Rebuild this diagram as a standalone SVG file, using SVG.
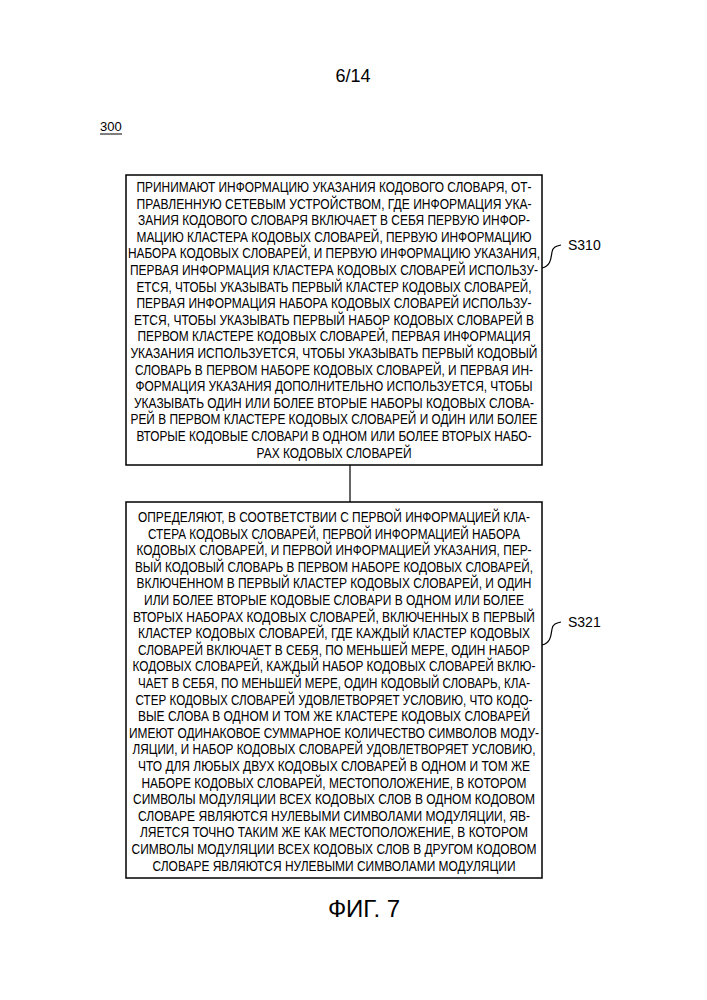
<svg xmlns="http://www.w3.org/2000/svg" width="707" height="1000" viewBox="0 0 707 1000">
<style>
text{font-family:"Liberation Sans",Arial,sans-serif;fill:#000}
.b{font-size:15px;text-anchor:middle}
.box{fill:#fff;stroke:#000;stroke-width:1.5}
.ln{fill:none;stroke:#000;stroke-width:1.2}
</style>
<rect width="707" height="1000" fill="#fff"/>
<text x="353" y="82" font-size="18" text-anchor="middle">6/14</text>
<text x="100" y="131" font-size="13">300</text>
<line x1="100" y1="134" x2="122" y2="134" stroke="#000" stroke-width="1"/>
<g id="connectors">
<line class="ln" x1="350" y1="465" x2="350" y2="502"/>
<path class="ln" d="M542,268 C551,266 551,258 552,252 C553,247 556,246 561,245"/>
<path class="ln" d="M542,645 C551,643 551,635 552,629 C553,624 556,623 561,622"/>
</g>
<g id="S310">
<rect class="box" x="126" y="175" width="416" height="290"/>
<text x="568" y="250" font-size="14">S310</text>
<text class="b" x="334" y="192" textLength="395" lengthAdjust="spacingAndGlyphs">ПРИНИМАЮТ ИНФОРМАЦИЮ УКАЗАНИЯ КОДОВОГО СЛОВАРЯ, ОТ-</text>
<text class="b" x="334" y="208.6" textLength="395" lengthAdjust="spacingAndGlyphs">ПРАВЛЕННУЮ СЕТЕВЫМ УСТРОЙСТВОМ, ГДЕ ИНФОРМАЦИЯ УКА-</text>
<text class="b" x="334" y="225.2" textLength="392" lengthAdjust="spacingAndGlyphs">ЗАНИЯ КОДОВОГО СЛОВАРЯ ВКЛЮЧАЕТ В СЕБЯ ПЕРВУЮ ИНФОР-</text>
<text class="b" x="334" y="241.8" textLength="395" lengthAdjust="spacingAndGlyphs">МАЦИЮ КЛАСТЕРА КОДОВЫХ СЛОВАРЕЙ, ПЕРВУЮ ИНФОРМАЦИЮ</text>
<text class="b" x="334" y="258.4" textLength="412" lengthAdjust="spacingAndGlyphs">НАБОРА КОДОВЫХ СЛОВАРЕЙ, И ПЕРВУЮ ИНФОРМАЦИЮ УКАЗАНИЯ,</text>
<text class="b" x="334" y="275" textLength="408" lengthAdjust="spacingAndGlyphs">ПЕРВАЯ ИНФОРМАЦИЯ КЛАСТЕРА КОДОВЫХ СЛОВАРЕЙ ИСПОЛЬЗУ-</text>
<text class="b" x="334" y="291.6" textLength="395" lengthAdjust="spacingAndGlyphs">ЕТСЯ, ЧТОБЫ УКАЗЫВАТЬ ПЕРВЫЙ КЛАСТЕР КОДОВЫХ СЛОВАРЕЙ,</text>
<text class="b" x="334" y="308.2" textLength="395" lengthAdjust="spacingAndGlyphs">ПЕРВАЯ ИНФОРМАЦИЯ НАБОРА КОДОВЫХ СЛОВАРЕЙ ИСПОЛЬЗУ-</text>
<text class="b" x="334" y="324.8" textLength="400" lengthAdjust="spacingAndGlyphs">ЕТСЯ, ЧТОБЫ УКАЗЫВАТЬ ПЕРВЫЙ НАБОР КОДОВЫХ СЛОВАРЕЙ В</text>
<text class="b" x="334" y="341.4" textLength="393" lengthAdjust="spacingAndGlyphs">ПЕРВОМ КЛАСТЕРЕ КОДОВЫХ СЛОВАРЕЙ, ПЕРВАЯ ИНФОРМАЦИЯ</text>
<text class="b" x="334" y="358" textLength="407" lengthAdjust="spacingAndGlyphs">УКАЗАНИЯ ИСПОЛЬЗУЕТСЯ, ЧТОБЫ УКАЗЫВАТЬ ПЕРВЫЙ КОДОВЫЙ</text>
<text class="b" x="334" y="374.6" textLength="398" lengthAdjust="spacingAndGlyphs">СЛОВАРЬ В ПЕРВОМ НАБОРЕ КОДОВЫХ СЛОВАРЕЙ, И ПЕРВАЯ ИН-</text>
<text class="b" x="334" y="391.2" textLength="397" lengthAdjust="spacingAndGlyphs">ФОРМАЦИЯ УКАЗАНИЯ ДОПОЛНИТЕЛЬНО ИСПОЛЬЗУЕТСЯ, ЧТОБЫ</text>
<text class="b" x="334" y="407.8" textLength="400" lengthAdjust="spacingAndGlyphs">УКАЗЫВАТЬ ОДИН ИЛИ БОЛЕЕ ВТОРЫЕ НАБОРЫ КОДОВЫХ СЛОВА-</text>
<text class="b" x="334" y="424.4" textLength="407" lengthAdjust="spacingAndGlyphs">РЕЙ В ПЕРВОМ КЛАСТЕРЕ КОДОВЫХ СЛОВАРЕЙ И ОДИН ИЛИ БОЛЕЕ</text>
<text class="b" x="334" y="441" textLength="395" lengthAdjust="spacingAndGlyphs">ВТОРЫЕ КОДОВЫЕ СЛОВАРИ В ОДНОМ ИЛИ БОЛЕЕ ВТОРЫХ НАБО-</text>
<text class="b" x="334" y="457.6" textLength="155" lengthAdjust="spacingAndGlyphs">РАХ КОДОВЫХ СЛОВАРЕЙ</text>
</g>
<g id="S321">
<rect class="box" x="126" y="502" width="416" height="376"/>
<text x="568" y="627" font-size="14">S321</text>
<text class="b" x="334" y="522" textLength="392" lengthAdjust="spacingAndGlyphs">ОПРЕДЕЛЯЮТ, В СООТВЕТСТВИИ С ПЕРВОЙ ИНФОРМАЦИЕЙ КЛА-</text>
<text class="b" x="334" y="538.6" textLength="372" lengthAdjust="spacingAndGlyphs">СТЕРА КОДОВЫХ СЛОВАРЕЙ, ПЕРВОЙ ИНФОРМАЦИЕЙ НАБОРА</text>
<text class="b" x="334" y="555.2" textLength="395" lengthAdjust="spacingAndGlyphs">КОДОВЫХ СЛОВАРЕЙ, И ПЕРВОЙ ИНФОРМАЦИЕЙ УКАЗАНИЯ, ПЕР-</text>
<text class="b" x="334" y="571.8" textLength="398" lengthAdjust="spacingAndGlyphs">ВЫЙ КОДОВЫЙ СЛОВАРЬ В ПЕРВОМ НАБОРЕ КОДОВЫХ СЛОВАРЕЙ,</text>
<text class="b" x="334" y="588.4" textLength="395" lengthAdjust="spacingAndGlyphs">ВКЛЮЧЕННОМ В ПЕРВЫЙ КЛАСТЕР КОДОВЫХ СЛОВАРЕЙ, И ОДИН</text>
<text class="b" x="334" y="605" textLength="380" lengthAdjust="spacingAndGlyphs">ИЛИ БОЛЕЕ ВТОРЫЕ КОДОВЫЕ СЛОВАРИ В ОДНОМ ИЛИ БОЛЕЕ</text>
<text class="b" x="334" y="621.6" textLength="402" lengthAdjust="spacingAndGlyphs">ВТОРЫХ НАБОРАХ КОДОВЫХ СЛОВАРЕЙ, ВКЛЮЧЕННЫХ В ПЕРВЫЙ</text>
<text class="b" x="334" y="638.2" textLength="392" lengthAdjust="spacingAndGlyphs">КЛАСТЕР КОДОВЫХ СЛОВАРЕЙ, ГДЕ КАЖДЫЙ КЛАСТЕР КОДОВЫХ</text>
<text class="b" x="334" y="654.8" textLength="392" lengthAdjust="spacingAndGlyphs">СЛОВАРЕЙ ВКЛЮЧАЕТ В СЕБЯ, ПО МЕНЬШЕЙ МЕРЕ, ОДИН НАБОР</text>
<text class="b" x="334" y="671.4" textLength="403" lengthAdjust="spacingAndGlyphs">КОДОВЫХ СЛОВАРЕЙ, КАЖДЫЙ НАБОР КОДОВЫХ СЛОВАРЕЙ ВКЛЮ-</text>
<text class="b" x="334" y="688" textLength="392" lengthAdjust="spacingAndGlyphs">ЧАЕТ В СЕБЯ, ПО МЕНЬШЕЙ МЕРЕ, ОДИН КОДОВЫЙ СЛОВАРЬ, КЛА-</text>
<text class="b" x="334" y="704.6" textLength="397" lengthAdjust="spacingAndGlyphs">СТЕР КОДОВЫХ СЛОВАРЕЙ УДОВЛЕТВОРЯЕТ УСЛОВИЮ, ЧТО КОДО-</text>
<text class="b" x="334" y="721.2" textLength="392" lengthAdjust="spacingAndGlyphs">ВЫЕ СЛОВА В ОДНОМ И ТОМ ЖЕ КЛАСТЕРЕ КОДОВЫХ СЛОВАРЕЙ</text>
<text class="b" x="334" y="737.8" textLength="410" lengthAdjust="spacingAndGlyphs">ИМЕЮТ ОДИНАКОВОЕ СУММАРНОЕ КОЛИЧЕСТВО СИМВОЛОВ МОДУ-</text>
<text class="b" x="334" y="754.4" textLength="403" lengthAdjust="spacingAndGlyphs">ЛЯЦИИ, И НАБОР КОДОВЫХ СЛОВАРЕЙ УДОВЛЕТВОРЯЕТ УСЛОВИЮ,</text>
<text class="b" x="334" y="771" textLength="392" lengthAdjust="spacingAndGlyphs">ЧТО ДЛЯ ЛЮБЫХ ДВУХ КОДОВЫХ СЛОВАРЕЙ В ОДНОМ И ТОМ ЖЕ</text>
<text class="b" x="334" y="787.6" textLength="385" lengthAdjust="spacingAndGlyphs">НАБОРЕ КОДОВЫХ СЛОВАРЕЙ, МЕСТОПОЛОЖЕНИЕ, В КОТОРОМ</text>
<text class="b" x="334" y="804.2" textLength="402" lengthAdjust="spacingAndGlyphs">СИМВОЛЫ МОДУЛЯЦИИ ВСЕХ КОДОВЫХ СЛОВ В ОДНОМ КОДОВОМ</text>
<text class="b" x="334" y="820.8" textLength="392" lengthAdjust="spacingAndGlyphs">СЛОВАРЕ ЯВЛЯЮТСЯ НУЛЕВЫМИ СИМВОЛАМИ МОДУЛЯЦИИ, ЯВ-</text>
<text class="b" x="334" y="837.4" textLength="388" lengthAdjust="spacingAndGlyphs">ЛЯЕТСЯ ТОЧНО ТАКИМ ЖЕ КАК МЕСТОПОЛОЖЕНИЕ, В КОТОРОМ</text>
<text class="b" x="334" y="854" textLength="405" lengthAdjust="spacingAndGlyphs">СИМВОЛЫ МОДУЛЯЦИИ ВСЕХ КОДОВЫХ СЛОВ В ДРУГОМ КОДОВОМ</text>
<text class="b" x="334" y="870.6" textLength="363" lengthAdjust="spacingAndGlyphs">СЛОВАРЕ ЯВЛЯЮТСЯ НУЛЕВЫМИ СИМВОЛАМИ МОДУЛЯЦИИ</text>
</g>
<text x="364" y="917" font-size="24" text-anchor="middle">ФИГ. 7</text>
</svg>
